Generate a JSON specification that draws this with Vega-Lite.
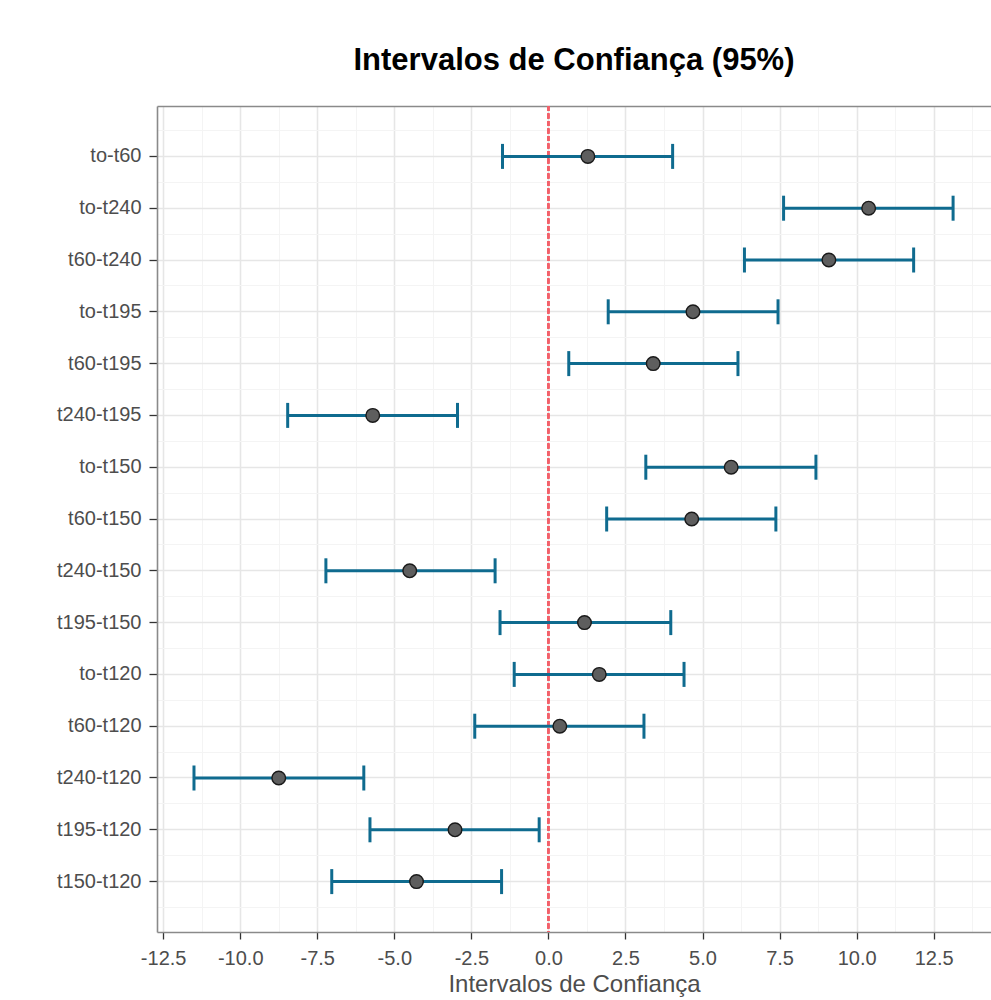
{
  "$schema": "https://vega.github.io/schema/vega-lite/v6.json",
  "width": 834,
  "height": 826,
  "autosize": {"type": "none"},
  "padding": {"left": 157, "top": 106, "right": 0, "bottom": 68},
  "background": "white",
  "title": {
    "text": "Intervalos de Confiança (95%)",
    "font": "Liberation Sans",
    "fontSize": 31,
    "fontWeight": "bold",
    "color": "black",
    "anchor": "middle",
    "frame": "group",
    "baseline": "alphabetic",
    "offset": 4
  },
  "data": {
    "values": [
      {"comparacao": "to-t60", "inferior": -1.49, "diferenca": 1.28, "superior": 4.03},
      {"comparacao": "to-t240", "inferior": 7.63, "diferenca": 10.39, "superior": 13.13},
      {"comparacao": "t60-t240", "inferior": 6.36, "diferenca": 9.10, "superior": 11.85},
      {"comparacao": "to-t195", "inferior": 1.94, "diferenca": 4.69, "superior": 7.45},
      {"comparacao": "t60-t195", "inferior": 0.66, "diferenca": 3.40, "superior": 6.15},
      {"comparacao": "t240-t195", "inferior": -8.46, "diferenca": -5.70, "superior": -2.95},
      {"comparacao": "to-t150", "inferior": 3.16, "diferenca": 5.93, "superior": 8.68},
      {"comparacao": "t60-t150", "inferior": 1.89, "diferenca": 4.65, "superior": 7.38},
      {"comparacao": "t240-t150", "inferior": -7.22, "diferenca": -4.50, "superior": -1.73},
      {"comparacao": "t195-t150", "inferior": -1.57, "diferenca": 1.17, "superior": 3.97},
      {"comparacao": "to-t120", "inferior": -1.11, "diferenca": 1.65, "superior": 4.40},
      {"comparacao": "t60-t120", "inferior": -2.39, "diferenca": 0.37, "superior": 3.10},
      {"comparacao": "t240-t120", "inferior": -11.50, "diferenca": -8.75, "superior": -5.99},
      {"comparacao": "t195-t120", "inferior": -5.79, "diferenca": -3.03, "superior": -0.30},
      {"comparacao": "t150-t120", "inferior": -7.03, "diferenca": -4.28, "superior": -1.52}
    ]
  },
  "layer": [
    {
      "mark": {"type": "rule", "color": "#f2606a", "strokeWidth": 1.5, "strokeDash": [5, 2.5]},
      "encoding": {
        "x": {"datum": 0, "type": "quantitative", "scale": {"domain": [-12.7, 14.36], "nice": false, "zero": false}, "axis": null}
      }
    },
    {
      "mark": {"type": "rule", "color": "#0f6b8f", "strokeWidth": 3},
      "encoding": {
        "x": {
          "field": "inferior",
          "type": "quantitative",
          "scale": {"domain": [-12.7, 14.36], "nice": false, "zero": false},
          "axis": {
            "orient": "bottom",
            "values": [-12.5, -10, -7.5, -5, -2.5, 0, 2.5, 5, 7.5, 10, 12.5],
            "labelExpr": "(datum.value < 0 ? '-' : '') + format(abs(datum.value), '.1f')",
            "title": "Intervalos de Confiança",
            "grid": true,
            "gridColor": "#e6e6e6",
            "gridWidth": 1.6,
            "domainColor": "#8a8a8a",
            "domainWidth": 1.6,
            "tickColor": "#333333",
            "tickWidth": 1.3,
            "tickSize": 7,
            "labelPadding": 9,
            "titlePadding": 4
          }
        },
        "x2": {"field": "superior"},
        "y": {
          "field": "comparacao",
          "type": "nominal",
          "sort": ["to-t60", "to-t240", "t60-t240", "to-t195", "t60-t195", "t240-t195", "to-t150", "t60-t150", "t240-t150", "t195-t150", "to-t120", "t60-t120", "t240-t120", "t195-t120", "t150-t120"],
          "scale": {"type": "band", "paddingInner": 0, "paddingOuter": 0.473},
          "axis": {
            "orient": "left",
            "title": null,
            "bandPosition": 0.5,
            "grid": true,
            "gridColor": "#e6e6e6",
            "gridWidth": 1.6,
            "domainColor": "#8a8a8a",
            "domainWidth": 1.6,
            "tickColor": "#333333",
            "tickWidth": 1.3,
            "tickSize": 8,
            "labelPadding": 8
          }
        }
      }
    },
    {
      "mark": {"type": "tick", "color": "#0f6b8f", "size": 25, "thickness": 3, "opacity": 1},
      "encoding": {
        "x": {
          "field": "inferior",
          "type": "quantitative",
          "scale": {"domain": [-12.7, 14.36], "nice": false, "zero": false},
          "axis": {
            "orient": "top",
            "values": [-11.25, -8.75, -6.25, -3.75, -1.25, 1.25, 3.75, 6.25, 8.75, 11.25, 13.75],
            "labels": false,
            "ticks": false,
            "title": null,
            "minExtent": 0,
            "maxExtent": 0,
            "grid": true,
            "gridColor": "#f4f4f4",
            "gridWidth": 1,
            "domainColor": "#8a8a8a",
            "domainWidth": 1.6
          }
        },
        "y": {
          "field": "comparacao",
          "type": "nominal",
          "sort": ["to-t60", "to-t240", "t60-t240", "to-t195", "t60-t195", "t240-t195", "to-t150", "t60-t150", "t240-t150", "t195-t150", "to-t120", "t60-t120", "t240-t120", "t195-t120", "t150-t120"],
          "axis": {
            "orient": "right",
            "title": null,
            "bandPosition": 0,
            "labels": false,
            "ticks": false,
            "domain": false,
            "minExtent": 0,
            "maxExtent": 0,
            "grid": true,
            "gridColor": "#f4f4f4",
            "gridWidth": 1
          }
        }
      }
    },
    {
      "mark": {"type": "tick", "color": "#0f6b8f", "size": 25, "thickness": 3, "opacity": 1},
      "encoding": {
        "x": {"field": "superior", "type": "quantitative", "scale": {"domain": [-12.7, 14.36], "nice": false, "zero": false}, "axis": null},
        "y": {
          "field": "comparacao",
          "type": "nominal",
          "sort": ["to-t60", "to-t240", "t60-t240", "to-t195", "t60-t195", "t240-t195", "to-t150", "t60-t150", "t240-t150", "t195-t150", "to-t120", "t60-t120", "t240-t120", "t195-t120", "t150-t120"],
          "axis": {
            "orient": "right",
            "title": null,
            "bandPosition": 1,
            "labels": false,
            "ticks": false,
            "domain": false,
            "minExtent": 0,
            "maxExtent": 0,
            "grid": true,
            "gridColor": "#f4f4f4",
            "gridWidth": 1
          }
        }
      }
    },
    {
      "mark": {"type": "point", "shape": "circle", "filled": true, "fill": "#5e5e5e", "stroke": "#1a1a1a", "strokeWidth": 1.4, "size": 185, "opacity": 1},
      "encoding": {
        "x": {"field": "diferenca", "type": "quantitative", "scale": {"domain": [-12.7, 14.36], "nice": false, "zero": false}, "axis": null},
        "y": {
          "field": "comparacao",
          "type": "nominal",
          "sort": ["to-t60", "to-t240", "t60-t240", "to-t195", "t60-t195", "t240-t195", "to-t150", "t60-t150", "t240-t150", "t195-t150", "to-t120", "t60-t120", "t240-t120", "t195-t120", "t150-t120"],
          "axis": null
        }
      }
    }
  ],
  "resolve": {"axis": {"x": "independent", "y": "independent"}},
  "config": {
    "view": {"stroke": null},
    "axis": {
      "labelFont": "Liberation Sans",
      "labelFontSize": 20,
      "labelColor": "#4d4d4d",
      "titleFont": "Liberation Sans",
      "titleFontSize": 24,
      "titleFontWeight": "normal",
      "titleColor": "#4d4d4d"
    }
  }
}
